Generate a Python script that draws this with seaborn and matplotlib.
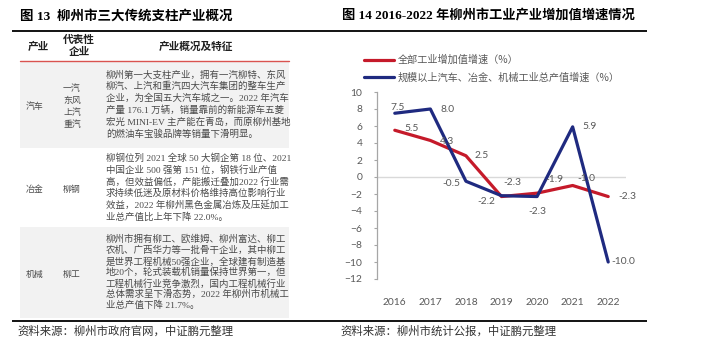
import matplotlib
matplotlib.use('Agg')
import matplotlib.pyplot as plt
import seaborn as sns
import pandas as pd

# ---------------- data ----------------
years = [2016, 2017, 2018, 2019, 2020, 2021, 2022]
all_industry = [5.5, 4.3, 2.5, -2.3, -1.9, -1.0, -2.3]
big_three = [7.5, 8.0, -0.5, -2.2, -2.3, 5.9, -10.0]
series_names = ['全部工业增加值增速（%）', '规模以上汽车、冶金、机械工业总产值增速（%）']
y_ticks = [10, 8, 6, 4, 2, 0, -2, -4, -6, -8, -10, -12]

table_headers = ['产业', '代表性\n企业', '产业概况及特征']
industries = ['汽车', '冶金', '机械']
companies = [['一汽', '东风', '上汽', '重汽'], ['柳钢'], ['柳工']]
descriptions = [
    ['柳州第一大支柱产业，拥有一汽柳特、东风',
     '柳汽、上汽和重汽四大汽车集团的整车生产',
     '企业，为全国五大汽车城之一。2022 年汽车',
     '产量 176.1 万辆，销量靠前的新能源车五菱',
     '宏光 MINI-EV 主产能在青岛，而原柳州基地',
     '的燃油车宝骏品牌等销量下滑明显。'],
    ['柳钢位列 2021 全球 50 大钢企第 18 位、2021',
     '中国企业 500 强第 151 位，钢铁行业产值',
     '高，但效益偏低，产能搬迁叠加2022 行业需',
     '求持续低迷及原材料价格维持高位影响行业',
     '效益，2022 年柳州黑色金属冶炼及压延加工',
     '业总产值比上年下降 22.0%。'],
    ['柳州市拥有柳工、欧维姆、柳州富达、柳工',
     '农机、广西华力等一批骨干企业，其中柳工',
     '是世界工程机械50强企业，全球建有制造基',
     '地20个，轮式装载机销量保持世界第一，但',
     '工程机械行业竞争激烈，国内工程机械行业',
     '总体需求呈下滑态势，2022 年柳州市机械工',
     '业总产值下降 21.7%。'],
]
title_left = '图 13  柳州市三大传统支柱产业概况'
title_right = '图 14 2016-2022 年柳州市工业产业增加值增速情况'
source_left = '资料来源：柳州市政府官网，中证鹏元整理'
source_right = '资料来源：柳州市统计公报，中证鹏元整理'

# ---------------- style ----------------
sns.set_theme(style='white')
CJK = 'Noto Sans CJK SC'
plt.rcParams['font.family'] = [CJK, 'DejaVu Sans']
SERIF_MIX = ['Liberation Serif', CJK]
NUM_FONT = ['Lato', CJK]
RED = '#C51A2A'
BLUE = '#1F2A80'
GRAY_TXT = '#595959'

W, H = 706, 355
fig = plt.figure(figsize=(W / 100, H / 100), dpi=100)

# background "pixel" axes for the table / titles / rules
bg = fig.add_axes([0, 0, 1, 1], zorder=0)
bg.set_xlim(0, W)
bg.set_ylim(H, 0)
bg.axis('off')

# titles
bg.text(20, 16, title_left, family=SERIF_MIX, weight='bold', fontsize=9.7,
        va='center', ha='left', color='black')
bg.text(342, 16, title_right, family=SERIF_MIX, weight='bold', fontsize=9.5,
        va='center', ha='left', color='black')

# horizontal rules
for (x0, x1) in [(12, 337), (337, 647)]:
    bg.plot([x0, x1], [31, 31], color='black', lw=1.3, solid_capstyle='butt')
    bg.plot([x0, x1], [321, 321], color='black', lw=1.3, solid_capstyle='butt')

# table row backgrounds
row_bounds = [(61, 148), (148, 227), (227, 318)]
row_fill = ['#F2F2F2', 'white', '#F2F2F2']
for (y0, y1), fc in zip(row_bounds, row_fill):
    bg.add_patch(plt.Rectangle((20, y0), 269, y1 - y0, facecolor=fc, edgecolor='none'))
bg.plot([20, 289], [61, 61], color='#D9534F', lw=1.0)

# headers
bg.text(38, 47, table_headers[0], fontsize=7.7, weight='bold', ha='center', va='center', color='#202020')
bg.text(79, 46, table_headers[1], fontsize=7.7, weight='bold', ha='center', va='center',
        color='#202020', linespacing=1.15)
bg.text(196, 47, table_headers[2], fontsize=7.7, weight='bold', ha='center', va='center', color='#202020')

# rows
spacings = [11.9, 11.7, 11.0]
for i, ((y0, y1), ind, comps, desc, sp) in enumerate(zip(row_bounds, industries, companies,
                                                          descriptions, spacings)):
    yc = (y0 + y1) / 2
    bg.text(26, yc + 2, ind, fontsize=6.4, ha='left', va='center', color='#4a4a4a')
    n = len(comps)
    for j, c in enumerate(comps):
        yy = yc + 2 + (j - (n - 1) / 2) * 12
        bg.text(63, yy, c, fontsize=6.4, ha='left', va='center', color='#4a4a4a')
    m = len(desc)
    for j, line in enumerate(desc):
        yy = yc + (j - (m - 1) / 2) * sp
        bg.text(106, yy, line, family=SERIF_MIX, fontsize=6.8, ha='left', va='center',
                color='#4a4a4a')

# sources
bg.text(17, 331, source_left, fontsize=8.2, ha='left', va='center', color='#333333')
bg.text(340, 331, source_right, fontsize=8.2, ha='left', va='center', color='#333333')

# ---------------- line chart ----------------
ax = fig.add_axes([377 / W, 1 - 279 / H, 249 / W, 187 / H], zorder=2)
ax.patch.set_alpha(0)
df = pd.DataFrame({
    'year': years * 2,
    'value': all_industry + big_three,
    'series': [series_names[0]] * len(years) + [series_names[1]] * len(years),
})
sns.lineplot(data=df, x='year', y='value', hue='series', hue_order=series_names,
             palette=[RED, BLUE], linewidth=2.3, ax=ax, legend=True)
ax.set_xlim(years[0] - 0.5, years[-1] + 0.5)
ax.set_ylim(-12, 10)
ax.set_yticks(y_ticks)
ax.set_xticks(years)
ax.set_xlabel('')
ax.set_ylabel('')
ax.axhline(0, color='#D9D9D9', lw=1.0, zorder=0)
for s in ['top', 'right', 'bottom']:
    ax.spines[s].set_visible(False)
ax.spines['left'].set_color('#A6A6A6')
ax.spines['left'].set_linewidth(0.9)
ax.tick_params(axis='y', which='major', left=True, length=2.5, width=0.8, color='#A6A6A6',
               pad=8, labelsize=7.4, labelcolor=GRAY_TXT)
ax.tick_params(axis='x', bottom=False, pad=8, labelsize=7.4, labelcolor=GRAY_TXT)
for lab in ax.get_xticklabels() + ax.get_yticklabels():
    lab.set_family(NUM_FONT)

# data labels (offsets in pixels)
red_off = [(17, 2), (17, -1), (16, 0), (11, 14), (17, 14), (14, 7), (19, 0)]
blue_off = [(3, 6), (17, 0), (-15, -2), (-15, -6), (0, -15), (17, 0), (15, 0)]
for vals, offs in [(all_industry, red_off), (big_three, blue_off)]:
    for x, v, (dx, dy) in zip(years, vals, offs):
        ax.annotate(f'{v:.1f}', (x, v), xytext=(dx, dy), textcoords='offset pixels',
                    ha='center', va='center', fontsize=7.4, color=GRAY_TXT,
                    family=NUM_FONT, zorder=5)

# legend
leg = ax.legend(loc='upper left', bbox_to_anchor=(364 / W, 1 - 55 / H),
                bbox_transform=fig.transFigure, frameon=False, fontsize=7.3,
                handlelength=3.0, handletextpad=0.35, labelspacing=0.7,
                borderpad=0, borderaxespad=0)
for t in leg.get_texts():
    t.set_color(GRAY_TXT)
for l in leg.get_lines():
    l.set_linewidth(2.3)

fig.savefig('out.png', dpi=100)
